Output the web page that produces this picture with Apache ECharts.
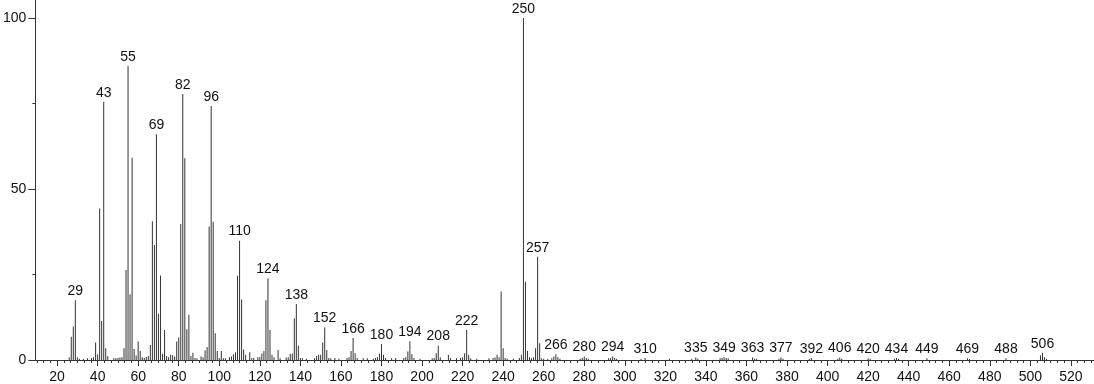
<!DOCTYPE html>
<html>
<head>
<meta charset="utf-8">
<script src="https://cdn.jsdelivr.net/npm/echarts@6/dist/echarts.min.js"></script>
<style>
html,body{margin:0;padding:0;background:#fff;}
#chart{width:1094px;height:384px;}
</style>
</head>
<body>
<div id="chart"></div>
<script>
// m/z values and relative intensities
const mz = [26,27,28,29,30,31,33,35,37,38,39,40,41,42,43,44,45,48,49,50,51,52,53,54,55,56,57,58,59,60,61,62,63,64,65,66,67,68,69,70,71,72,73,74,75,76,77,78,79,80,81,82,83,84,85,86,87,88,89,91,92,93,94,95,96,97,98,99,100,101,102,103,105,106,107,108,109,110,111,112,113,115,116,117,119,120,121,122,123,124,125,126,127,129,130,133,134,135,136,137,138,139,140,141,143,147,148,149,150,151,152,153,154,155,157,159,163,164,165,166,167,168,171,173,176,177,178,179,180,181,182,185,187,191,192,193,194,195,196,199,205,206,207,208,209,213,214,217,219,220,221,222,223,224,227,233,235,236,237,238,239,240,241,242,245,248,249,250,251,252,253,254,255,256,257,258,259,260,262,264,265,266,267,268,278,279,280,281,282,292,293,294,295,296,308,310,322,333,335,336,347,348,349,350,351,363,364,365,376,377,378,391,392,405,406,407,420,421,433,434,435,449,469,470,488,505,506,507,508];
const intensity = [0.8,6.8,9.8,17.5,0.8,0.4,0.3,0.5,0.6,0.8,5.1,1.7,44.3,11.4,75.5,3.4,1.1,0.5,0.6,0.6,0.7,0.8,3.4,26.3,86,19.2,59.1,3.2,1.3,5.4,2.6,0.8,0.6,0.9,1.2,4.4,40.6,33.6,66,13.5,24.7,1.8,8.8,1.2,0.8,1.5,1.4,1.0,5.4,6.6,39.8,77.8,59,9,13.2,1.2,2.1,0.6,0.5,1.0,0.8,2.8,3.8,39,74.3,40.4,7.8,2.6,0.6,2.6,0.5,0.5,0.8,1.0,1.7,2.3,24.6,34.9,17.7,3.1,1.5,2.3,0.5,0.6,0.8,0.9,1.9,2.6,17.5,23.9,8.8,1.5,0.8,2.9,0.5,0.7,0.8,1.8,1.9,12.2,16.4,4.2,0.6,0.5,0.4,0.5,1.2,1.5,1.5,5.1,9.5,2.9,0.6,0.5,0.6,0.4,0.6,0.8,2.6,6.4,2.0,0.6,0.5,0.5,0.4,0.6,0.8,1.8,4.7,1.5,0.6,0.5,0.6,0.6,0.8,2.5,5.5,1.7,0.6,0.4,0.5,0.6,2.0,4.2,0.7,1.5,0.6,0.5,0.6,0.8,2.0,8.8,1.5,0.5,0.4,0.5,0.6,0.7,1.5,0.8,20,3.4,0.6,0.4,0.4,0.6,1.5,100,22.9,2.6,0.8,0.5,0.8,3.4,30.2,4.9,0.5,0.4,0.3,0.5,1.0,1.7,0.8,0.4,0.4,0.6,1.0,0.6,0.4,0.5,0.6,1.0,0.6,0.4,0.4,0.6,0.4,0.4,0.7,0.4,0.5,0.6,0.8,0.6,0.5,0.7,0.4,0.4,0.4,0.7,0.4,0.4,0.6,0.4,0.7,0.4,0.5,0.4,0.4,0.6,0.4,0.5,0.5,0.3,0.5,1.4,2.1,0.8,0.4];
const labelled = [29,43,55,69,82,96,110,124,138,152,166,180,194,208,222,250,257,266,280,294,310,335,349,363,377,392,406,420,434,449,469,488,506];
const xTickLabels = [20,40,60,80,100,120,140,160,180,200,220,240,260,280,300,320,340,360,380,400,420,440,460,480,500,520];
const yTickLabels = [0,50,100];
const yMinorTicks = [25,75];

const X_MIN = 9.29, X_MAX = 531.4, Y_MAX = 105.26;
const xMinor = [];
for (let k = 0; k <= 156; k++) {
  const v = 10 + k * 20 / 6;
  if (v > X_MIN && v < X_MAX && Math.abs(v / 20 - Math.round(v / 20)) > 1e-6) xMinor.push(v);
}

const data = mz.map((m, i) => ({
  value: [m, intensity[i]],
  label: { show: labelled.indexOf(m) >= 0 }
}));

const FONT = "'Liberation Sans', Arial, sans-serif";
const chart = echarts.init(document.getElementById('chart'));
chart.setOption({
  animation: false,
  backgroundColor: '#fff',
  grid: { left: 31, right: 0, top: 0, bottom: 24, containLabel: false },
  xAxis: [
    {
      type: 'value', min: X_MIN, max: X_MAX, position: 'bottom',
      axisLine: { show: true, onZero: false, lineStyle: { color: '#333', width: 1 } },
      axisTick: { show: true, customValues: xTickLabels, length: 6, lineStyle: { color: '#333' } },
      axisLabel: { customValues: xTickLabels, fontSize: 14, color: '#111', margin: 10, fontFamily: FONT },
      splitLine: { show: false }
    },
    {
      type: 'value', min: X_MIN, max: X_MAX, position: 'bottom',
      axisLine: { show: false },
      axisTick: { show: true, customValues: xMinor, length: 3, lineStyle: { color: '#333' } },
      axisLabel: { show: false },
      splitLine: { show: false }
    }
  ],
  yAxis: [
    {
      type: 'value', min: 0, max: Y_MAX, position: 'left',
      axisLine: { show: true, onZero: false, lineStyle: { color: '#333', width: 1 } },
      axisTick: { show: true, customValues: yTickLabels, length: 7, lineStyle: { color: '#333' } },
      axisLabel: { customValues: yTickLabels, fontSize: 14, color: '#111', margin: 9, fontFamily: FONT },
      splitLine: { show: false }
    },
    {
      type: 'value', min: 0, max: Y_MAX, position: 'left',
      axisLine: { show: false },
      axisTick: { show: true, customValues: yMinorTicks, length: 3, lineStyle: { color: '#333' } },
      axisLabel: { show: false },
      splitLine: { show: false }
    }
  ],
  series: [{
    type: 'bar',
    xAxisIndex: 0, yAxisIndex: 0,
    barWidth: 1,
    itemStyle: { color: '#333' },
    label: {
      position: 'top', distance: 2, fontSize: 14, color: '#111', fontFamily: FONT,
      formatter: p => String(p.value[0])
    },
    labelLayout: { hideOverlap: false },
    data: data
  }]
});
</script>
</body>
</html>
